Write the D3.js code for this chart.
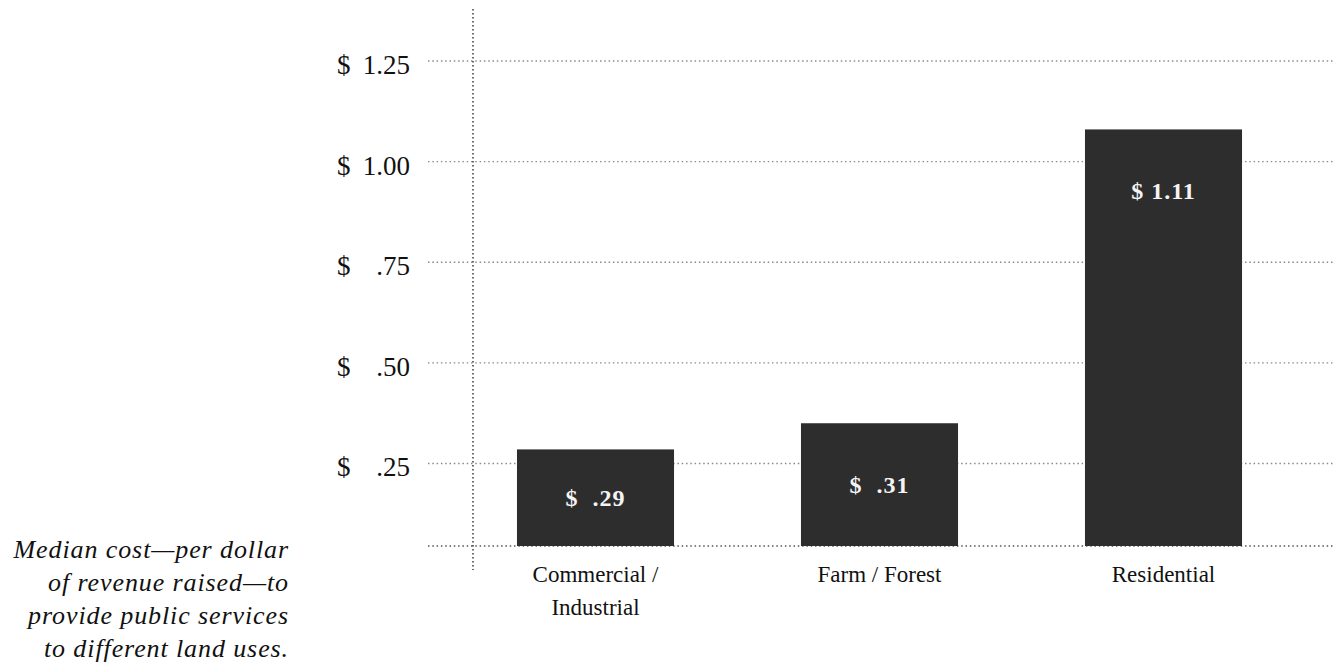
<!DOCTYPE html>
<html>
<head>
<meta charset="utf-8">
<script src="https://cdn.jsdelivr.net/npm/d3@7"></script>
<style>
  html, body { margin: 0; padding: 0; background: #fff; }
  svg { display: block; }
</style>
</head>
<body>
<svg id="chart" width="1333" height="670"></svg>
<script>
// ---- data ----
const categories = ["Commercial / Industrial", "Farm / Forest", "Residential"];
const categoryLines = [["Commercial /", "Industrial"], ["Farm / Forest"], ["Residential"]];
const values = [0.285, 0.35, 1.08];          // bar heights as drawn
const valueLabels = ["$  .29", "$  .31", "$ 1.11"];
const tickValues = [0.25, 0.50, 0.75, 1.00, 1.25];
const tickNumbers = [".25", ".50", ".75", "1.00", "1.25"];
const captionLines = ["Median cost\u2014per dollar", "of revenue raised\u2014to", "provide public services", "to different land uses."];

// ---- layout ----
const svg = d3.select("#chart");
const serif = "'Liberation Serif', 'DejaVu Serif', serif";
const baseValue = 0.045;
const y = d3.scaleLinear().domain([baseValue, 1.25]).range([546, 61]);
const x = d3.scaleBand().domain(categories).range([453.5, 1305.5]).paddingInner(0.447).paddingOuter(0.2235);
const axisX = 473;
const gridX0 = 428, gridX1 = 1333;

// gridlines
svg.append("g").selectAll("line").data(tickValues).join("line")
  .attr("x1", gridX0).attr("x2", gridX1)
  .attr("y1", d => y(d)).attr("y2", d => y(d))
  .attr("stroke", "#8a8a8a").attr("stroke-width", 1.3).attr("stroke-dasharray", "1.5,2.8");

// baseline
svg.append("line")
  .attr("x1", gridX0).attr("x2", gridX1)
  .attr("y1", y(baseValue)).attr("y2", y(baseValue))
  .attr("stroke", "#555").attr("stroke-width", 1.5).attr("stroke-dasharray", "1.5,2.8");

// vertical axis
svg.append("line")
  .attr("x1", axisX).attr("x2", axisX).attr("y1", 9).attr("y2", 570)
  .attr("stroke", "#444").attr("stroke-width", 1.6).attr("stroke-dasharray", "1.6,2.4");

// tick labels
const tl = svg.append("g").selectAll("g").data(tickValues).join("g");
tl.append("text").attr("x", 337).attr("y", d => y(d) + 13)
  .attr("font-family", serif).attr("font-size", 27).attr("fill", "#111").text("$");
tl.append("text").attr("x", 410).attr("y", (d) => y(d) + 13).attr("text-anchor", "end")
  .attr("font-family", serif).attr("font-size", 27).attr("fill", "#111")
  .text((d, i) => tickNumbers[i]);

// bars
svg.append("g").selectAll("rect").data(values).join("rect")
  .attr("x", (d, i) => x(categories[i]))
  .attr("width", x.bandwidth())
  .attr("y", d => y(d))
  .attr("height", d => y(baseValue) - y(d))
  .attr("fill", "#2d2d2d");

// value labels
svg.append("g").selectAll("text").data(values).join("text")
  .attr("x", (d, i) => x(categories[i]) + x.bandwidth() / 2)
  .attr("y", d => Math.min((y(d) + y(baseValue)) / 2, y(d) + 62) + 8)
  .attr("text-anchor", "middle")
  .attr("font-family", serif).attr("font-size", 24).attr("font-weight", "bold")
  .attr("letter-spacing", 1)
  .attr("fill", "#f4f4f4").style("white-space", "pre")
  .text((d, i) => valueLabels[i]);

// category labels
const cl = svg.append("g").selectAll("text").data(categories).join("text")
  .attr("x", d => x(d) + x.bandwidth() / 2)
  .attr("y", 582)
  .attr("text-anchor", "middle")
  .attr("font-family", serif).attr("font-size", 23).attr("fill", "#111");
cl.each(function(d, i) {
  d3.select(this).selectAll("tspan").data(categoryLines[i]).join("tspan")
    .attr("x", x(d) + x.bandwidth() / 2)
    .attr("dy", (t, j) => j === 0 ? 0 : 33)
    .text(t => t);
});

// caption
svg.append("g").selectAll("text").data(captionLines).join("text")
  .attr("x", 289).attr("y", (d, i) => 558 + i * 33)
  .attr("text-anchor", "end")
  .attr("font-family", serif).attr("font-size", 26).attr("font-style", "italic")
  .attr("letter-spacing", 0.9).attr("fill", "#111")
  .text(d => d);
</script>
</body>
</html>
